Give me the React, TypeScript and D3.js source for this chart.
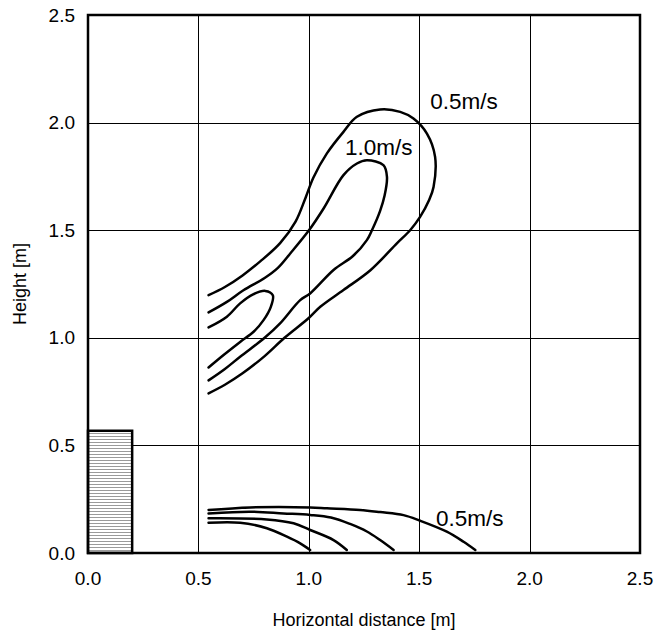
import React from "react";
import * as d3 from "d3";

const xTicks = [0, 0.5, 1.0, 1.5, 2.0, 2.5];
const yTicks = [0, 0.5, 1.0, 1.5, 2.0, 2.5];

// Upper jet contours [x, y]
const outer05: [number, number][] = [
  [0.546, 1.198], [0.620, 1.236], [0.700, 1.290], [0.780, 1.355], [0.870, 1.440],
  [0.940, 1.540], [0.985, 1.650], [1.021, 1.745], [1.082, 1.857], [1.157, 1.957],
  [1.218, 2.027], [1.323, 2.061], [1.414, 2.050], [1.474, 2.019], [1.535, 1.949],
  [1.572, 1.841], [1.565, 1.701], [1.545, 1.640], [1.504, 1.562], [1.459, 1.500],
  [1.400, 1.440], [1.279, 1.314], [1.157, 1.222], [1.052, 1.144], [1.000, 1.092],
  [0.890, 1.000], [0.800, 0.915], [0.700, 0.835], [0.620, 0.782], [0.546, 0.742],
];

const inner10: [number, number][] = [
  [0.546, 1.118], [0.629, 1.167], [0.704, 1.221], [0.800, 1.278], [0.860, 1.325],
  [0.916, 1.392], [0.999, 1.497], [1.067, 1.601], [1.157, 1.756], [1.218, 1.810],
  [1.263, 1.825], [1.338, 1.802], [1.354, 1.748], [1.343, 1.660], [1.323, 1.590],
  [1.286, 1.500], [1.263, 1.454], [1.200, 1.380], [1.112, 1.315], [1.006, 1.206],
  [0.961, 1.175], [0.870, 1.067], [0.800, 1.000], [0.689, 0.912], [0.620, 0.855],
  [0.546, 0.802],
];

const smallLoop: [number, number][] = [
  [0.546, 1.048], [0.629, 1.098], [0.689, 1.160], [0.750, 1.203], [0.803, 1.218],
  [0.837, 1.198], [0.828, 1.144], [0.795, 1.082], [0.750, 1.028], [0.689, 0.981],
  [0.614, 0.920], [0.546, 0.862],
];

// Floor contours
const floorA: [number, number][] = [
  [0.546, 0.200], [0.735, 0.212], [1.006, 0.212], [1.082, 0.208], [1.232, 0.200],
  [1.323, 0.190], [1.429, 0.176], [1.504, 0.150], [1.625, 0.099], [1.701, 0.052],
  [1.754, 0.014],
];
const floorB: [number, number][] = [
  [0.546, 0.184], [0.735, 0.192], [0.885, 0.184], [1.006, 0.177], [1.100, 0.165],
  [1.187, 0.135], [1.263, 0.100], [1.323, 0.060], [1.384, 0.014],
];
const floorC: [number, number][] = [
  [0.546, 0.161], [0.810, 0.156], [0.931, 0.138], [1.006, 0.107], [1.112, 0.060],
  [1.172, 0.014],
];
const floorD: [number, number][] = [
  [0.546, 0.141], [0.689, 0.141], [0.810, 0.115], [0.901, 0.076], [0.961, 0.045],
  [1.006, 0.014],
];

const contours = [outer05, inner10, smallLoop, floorA, floorB, floorC, floorD];

const labels = [
  { text: "0.5m/s", x: 1.55, y: 2.065 },
  { text: "1.0m/s", x: 1.164, y: 1.849 },
  { text: "0.5m/s", x: 1.576, y: 0.125 },
];

const obstacle = { x0: 0, x1: 0.2, y0: 0, y1: 0.568 };

const W = 655;
const H = 636;
const left = 88;
const right = 640;
const top = 15;
const bottom = 553;
const font = "'Liberation Sans', Arial, sans-serif";

export default function App() {
  const x = d3.scaleLinear().domain([0, 2.5]).range([left, right]);
  const y = d3.scaleLinear().domain([0, 2.5]).range([bottom, top]);
  const line = d3
    .line<[number, number]>()
    .x((d) => x(d[0]))
    .y((d) => y(d[1]))
    .curve(d3.curveCatmullRom.alpha(0.5));

  const rx = x(obstacle.x0);
  const rw = x(obstacle.x1) - x(obstacle.x0);
  const ry = y(obstacle.y1);
  const rh = y(obstacle.y0) - y(obstacle.y1);

  return (
    <svg
      width={W}
      height={H}
      style={{ position: "absolute", left: 0, top: 0, background: "#fff" }}
      fontFamily={font}
    >
      <defs>
        <pattern id="hatch" width="4" height="3" patternUnits="userSpaceOnUse">
          <rect width="4" height="3" fill="#fff" />
          <line x1="0" x2="4" y1="1.5" y2="1.5" stroke="#9a9a9a" strokeWidth="1" />
        </pattern>
      </defs>
      {/* grid */}
      {xTicks.slice(1, -1).map((t) => (
        <line key={"gx" + t} x1={Math.round(x(t)) + 0.5} x2={Math.round(x(t)) + 0.5} y1={top} y2={bottom} stroke="#000" strokeWidth={1} />
      ))}
      {yTicks.slice(1, -1).map((t) => (
        <line key={"gy" + t} x1={left} x2={right} y1={Math.round(y(t)) + 0.5} y2={Math.round(y(t)) + 0.5} stroke="#000" strokeWidth={1} />
      ))}
      {/* obstacle */}
      <rect x={rx} y={ry} width={rw} height={rh} fill="url(#hatch)" stroke="#000" strokeWidth={2.5} />
      {/* contours */}
      {contours.map((c, i) => (
        <path key={i} d={line(c) || ""} fill="none" stroke="#000" strokeWidth={2.5} strokeLinejoin="round" strokeLinecap="round" />
      ))}
      {/* labels */}
      {labels.map((l, i) => (
        <text key={i} x={x(l.x)} y={y(l.y)} fontSize={22.5} fill="#000">
          {l.text}
        </text>
      ))}
      {/* frame */}
      <rect x={left} y={top} width={right - left} height={bottom - top} fill="none" stroke="#000" strokeWidth={2.5} />
      {/* ticks */}
      {yTicks.map((t) => (
        <text key={"ty" + t} x={left - 13} y={y(t)} fontSize={19} textAnchor="end" dominantBaseline="central">
          {t.toFixed(1)}
        </text>
      ))}
      {xTicks.map((t) => (
        <text key={"tx" + t} x={x(t)} y={578} fontSize={19} textAnchor="middle" dominantBaseline="central">
          {t.toFixed(1)}
        </text>
      ))}
      <text x={(left + right) / 2} y={620} fontSize={18} textAnchor="middle" dominantBaseline="central">
        Horizontal distance [m]
      </text>
      <text
        transform={`translate(20, ${(top + bottom) / 2}) rotate(-90)`}
        fontSize={18}
        textAnchor="middle"
        dominantBaseline="central"
      >
        Height [m]
      </text>
    </svg>
  );
}
